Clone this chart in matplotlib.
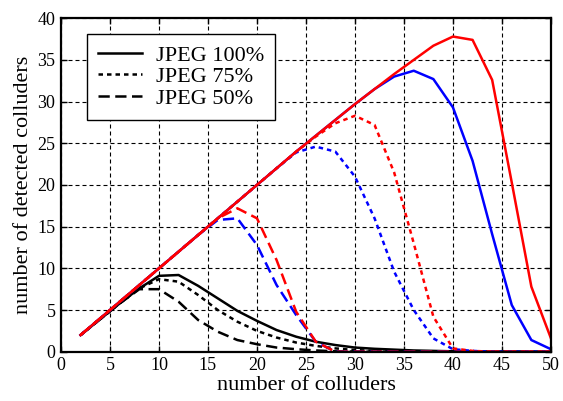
import matplotlib
matplotlib.use("Agg")
import matplotlib.pyplot as plt

# number of colluders (every 2)
colluders = list(range(2, 51, 2))

# black curves
black_100 = [2, 3.9, 5.8, 7.6, 9.1, 9.2, 7.9, 6.4, 4.9, 3.7, 2.6, 1.8, 1.2, 0.8, 0.5,
             0.35, 0.25, 0.15, 0.1, 0.05, 0.03, 0.02, 0.01, 0, 0]
black_75 = [2, 3.9, 5.8, 7.6, 8.7, 8.4, 6.8, 5.0, 3.6, 2.5, 1.7, 1.1, 0.7, 0.4, 0.2,
            0.1, 0.05, 0.03, 0.02, 0.01, 0, 0, 0, 0, 0]
black_50 = [2, 3.9, 5.8, 7.5, 7.5, 6.0, 3.8, 2.4, 1.4, 0.9, 0.5, 0.3, 0.15, 0.05, 0.02,
            0, 0, 0, 0, 0, 0, 0, 0, 0, 0]

# blue curves
blue_100 = [2, 4, 6, 8, 10, 12, 14, 16, 18, 20, 22, 24, 25.9, 27.8, 29.7, 31.5, 33.0,
            33.7, 32.7, 29.3, 22.9, 14.1, 5.6, 1.4, 0.3]
blue_75 = [2, 4, 6, 8, 10, 12, 14, 16, 18, 20, 22, 23.9, 24.6, 24.0, 21.0, 16.0, 9.6,
           5.0, 1.6, 0.3, 0.1, 0, 0, 0, 0]
blue_50 = [2, 4, 6, 8, 10, 12, 14, 15.8, 16.0, 12.8, 8.0, 4.4, 1.2, 0, 0, 0, 0, 0, 0,
           0, 0, 0, 0, 0, 0]

# red curves
red_100 = [2, 4, 6, 8, 10, 12, 14, 16, 18, 20, 22, 24, 25.9, 27.8, 29.7, 31.5, 33.3,
           35.0, 36.7, 37.8, 37.4, 32.6, 20.3, 7.8, 1.6]
red_75 = [2, 4, 6, 8, 10, 12, 14, 16, 18, 20, 22, 24, 25.8, 27.4, 28.3, 27.2, 21.5,
          13.0, 4.2, 0.4, 0.1, 0, 0, 0, 0]
red_50 = [2, 4, 6, 8, 10, 12, 14, 16, 17.2, 16.0, 11.0, 4.8, 1.2, 0, 0, 0, 0, 0, 0,
          0, 0, 0, 0, 0, 0]

labels = ["JPEG 100%", "JPEG 75%", "JPEG 50%"]

plt.rcParams['font.family'] = ['Liberation Serif', 'DejaVu Serif']
plt.rcParams['lines.scale_dashes'] = True

fig = plt.figure(figsize=(5.63, 4.01), dpi=100)
ax = fig.add_axes([0.1083, 0.1229, 0.8703, 0.8317])

solid = '-'
dotted = (0, (1.8, 1.6))
dashed = (0, (4.5, 2.2))
lw = 1.8

# black first, then blue, red on top
for ys, ls in [(black_100, solid), (black_75, dotted), (black_50, dashed)]:
    ax.plot(colluders, ys, color='black', linestyle=ls, linewidth=lw)
for ys, ls in [(blue_50, dashed), (blue_75, dotted), (blue_100, solid)]:
    ax.plot(colluders, ys, color='blue', linestyle=ls, linewidth=lw)
for ys, ls in [(red_50, dashed), (red_75, dotted), (red_100, solid)]:
    ax.plot(colluders, ys, color='red', linestyle=ls, linewidth=lw)

ax.set_xlim(0, 50)
ax.set_ylim(0, 40)
ax.set_xticks(range(0, 51, 5))
ax.set_yticks(range(0, 41, 5))
ax.grid(True, color='black', linestyle=(0, (3.6, 2.7)), linewidth=0.8)
ax.tick_params(direction='in', length=4, width=1, top=True, right=True,
               labelsize=13, pad=4)
for s in ax.spines.values():
    s.set_linewidth(1.6)

ax.set_xlabel("number of colluders", fontsize=16, labelpad=1)
ax.set_ylabel("number of detected colluders", fontsize=16, labelpad=3)

# legend shows the line styles in black
handles = [plt.Line2D([], [], color='black', linestyle=ls, linewidth=lw)
           for ls in [solid, dotted, dashed]]
leg = ax.legend(handles, labels, loc='upper left', bbox_to_anchor=(0.0524, 0.953),
                borderaxespad=0, fontsize=16, fancybox=False, edgecolor='black',
                framealpha=1, handlelength=2.0, handletextpad=0.6,
                labelspacing=0.05, borderpad=0.5)
leg.get_frame().set_linewidth(1.0)

fig.savefig("out.png", dpi=100)
